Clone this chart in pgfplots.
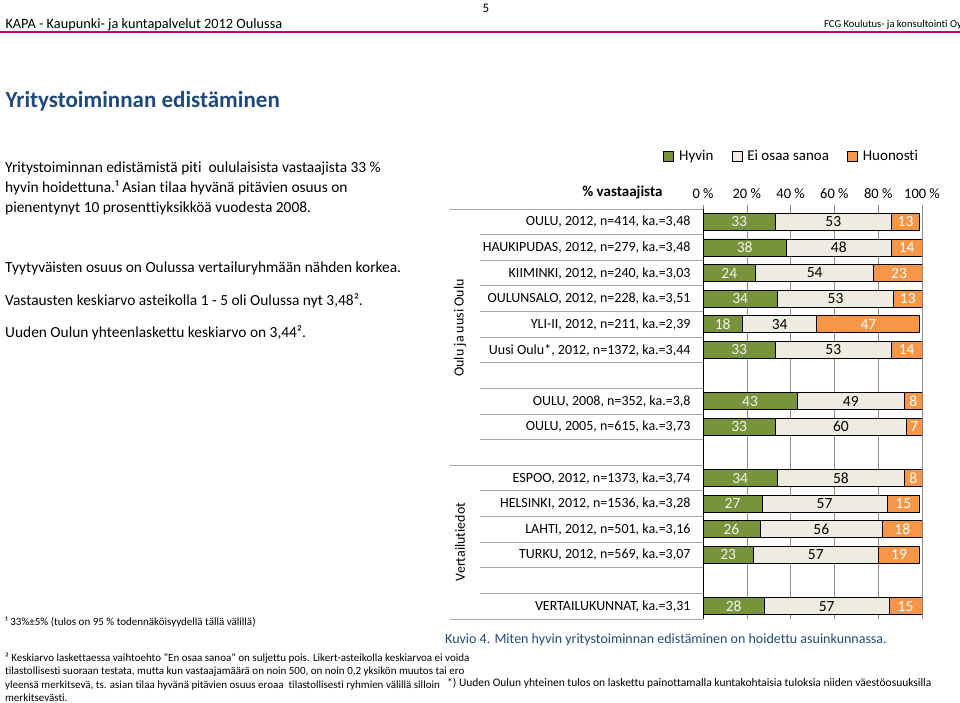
\documentclass[border=0pt]{standalone}
\usepackage{pgfplots}
\pgfplotsset{compat=1.18}
\usepackage{pgfplotstable}
\usepackage{fontspec}
\setmainfont{Carlito}[Ligatures=NoCommon]
\definecolor{cgreen}{HTML}{77933C}
\definecolor{cbeige}{HTML}{EEECE1}
\definecolor{corange}{HTML}{F79646}
\definecolor{cblue}{HTML}{1F497D}
\definecolor{cmag}{HTML}{C0006E}
\definecolor{cgrid}{HTML}{8C8C8C}
\definecolor{csep}{HTML}{A6A6A6}
\newcommand{\fs}[1]{\fontsize{#1}{#1}\selectfont}

\pgfplotstableread{
y a b c
0 33 53 13
1 38 48 14
2 24 54 23
3 34 53 13
4 18 34 47
5 33 53 14
7 43 49 8
8 33 60 7
10 34 58 8
11 27 57 15
12 26 56 18
13 23 57 19
15 28 57 15
}\data

\begin{document}
\begin{tikzpicture}[x=1pt,y=1pt]
\useasboundingbox (0,0) rectangle (960,703);
% header
\node[font=\fs{13}] at (486,695) {5};
\node[anchor=west,font=\fs{14.3}] at (2,678) {KAPA - Kaupunki- ja kuntapalvelut 2012 Oulussa};
\node[anchor=west,font=\fs{10.6},inner sep=0pt] at (824,678) {FCG Koulutus- ja konsultointi Oy};
\draw[cmag, line width=2pt] (0,670.5) -- (960,670.5);
% title
\node[anchor=west,font=\fs{23}\bfseries,text=cblue] at (2,602) {Yritystoiminnan edistäminen};
% left text
\begin{scope}[every node/.style={anchor=west,font=\fs{15.4},inner sep=0pt}]
\node at (5,535) {Yritystoiminnan edistämistä piti \ oululaisista vastaajista 33 \%};
\node at (5,515) {hyvin hoidettuna.¹ Asian tilaa hyvänä pitävien osuus on};
\node at (5,495) {pienentynyt 10 prosenttiyksikköä vuodesta 2008.};
\node at (5,435) {Tyytyväisten osuus on Oulussa vertailuryhmään nähden korkea.};
\node at (5,402) {Vastausten keskiarvo asteikolla 1 - 5 oli Oulussa nyt 3,48².};
\node at (5,370) {Uuden Oulun yhteenlaskettu keskiarvo on 3,44².};
\end{scope}
% footnotes
\begin{scope}[every node/.style={anchor=west,font=\fs{11},inner sep=0pt}]
\node at (5,81) {¹ 33\%±5\% (tulos on 95 \% todennäköisyydellä tällä välillä)};
\node at (5,45) {² Keskiarvo laskettaessa vaihtoehto "En osaa sanoa" on suljettu pois. Likert-asteikolla keskiarvoa ei voida};
\node at (5,31) {tilastollisesti suoraan testata, mutta kun vastaajamäärä on noin 500, on noin 0,2 yksikön muutos tai ero};
\node at (5,17) {yleensä merkitsevä, ts. asian tilaa hyvänä pitävien osuus eroaa \ tilastollisesti ryhmien välillä silloin};
\node at (5,5) {merkitsevästi.};
\node[font=\fs{11.5}] at (447,20) {*) Uuden Oulun yhteinen tulos on laskettu painottamalla kuntakohtaisia tuloksia niiden väestöosuuksilla};
\node[font=\fs{14},text=cblue] at (445,63) {Kuvio 4. Miten hyvin yritystoiminnan edistäminen on hoidettu asuinkunnassa.};
\end{scope}
% separator lines
\foreach \k in {1,...,9,11,12,13,14,15}{
  \draw[csep, line width=0.8pt] (480,494-25.625*\k) -- (703,494-25.625*\k);
}
\foreach \k in {0,10,16}{
  \draw[csep, line width=0.8pt] (450,494-25.625*\k) -- (703,494-25.625*\k);
}
\node[rotate=90,font=\fs{14}] at (460,375) {Oulu ja uusi Oulu};
\node[rotate=90,font=\fs{14}] at (460,161) {Vertailutiedot};
\node[anchor=east,font=\fs{15}\bfseries] at (666,510) {\% vastaajista};

\begin{axis}[
  at={(703pt,84pt)}, anchor=south west,
  width=219pt, height=410pt, scale only axis,
  xbar stacked, bar width=17pt,
  xmin=0, xmax=100, ymin=-0.5, ymax=15.5, y dir=reverse,
  axis line style={draw=none},
  xtick={0,20,...,100}, xticklabels={0 \%,20 \%,40 \%,60 \%,80 \%,100 \%},
  xticklabel pos=upper, xtick pos=upper, tick align=outside, major tick length=4pt,
  xtick style={cgrid, line width=0.6pt},
  xmajorgrids, grid style={cgrid, line width=0.6pt},
  ytick={0,1,2,3,4,5,7,8,10,11,12,13,15},
  yticklabels={{OULU, 2012, n=414, ka.=3,48},{HAUKIPUDAS, 2012, n=279, ka.=3,48},{KIIMINKI, 2012, n=240, ka.=3,03},{OULUNSALO, 2012, n=228, ka.=3,51},{YLI-II, 2012, n=211, ka.=2,39},{Uusi Oulu*, 2012, n=1372, ka.=3,44},{OULU, 2008, n=352, ka.=3,8},{OULU, 2005, n=615, ka.=3,73},{ESPOO, 2012, n=1373, ka.=3,74},{HELSINKI, 2012, n=1536, ka.=3,28},{LAHTI, 2012, n=501, ka.=3,16},{TURKU, 2012, n=569, ka.=3,07},{VERTAILUKUNNAT, ka.=3,31}},
  ytick style={draw=none},
  yticklabel style={font=\fs{14}, xshift=-5pt},
  xticklabel style={font=\fs{14.5}, yshift=3pt},
  legend columns=3,
  legend style={draw=none, at={(0.405,1.129)}, anchor=center, font=\fs{15},
    /tikz/every even column/.append style={column sep=16pt}},
  legend image code/.code={\draw[#1] (0pt,-5pt) rectangle (10pt,5pt); \path (13pt,0pt);},
]
\addplot[fill=cgreen, draw=black, line width=0.8pt] table[x=a, y=y]{\data};
\addplot[fill=cbeige, draw=black, line width=0.8pt] table[x=b, y=y]{\data};
\addplot[fill=corange, draw=black, line width=0.8pt] table[x=c, y=y]{\data};
\legend{Hyvin, Ei osaa sanoa, Huonosti}
\draw[black, line width=1pt] (axis cs:0,-0.5) -- (axis cs:0,15.5);
\end{axis}

\begin{axis}[
  at={(703pt,84pt)}, anchor=south west,
  width=219pt, height=410pt, scale only axis,
  xmin=0, xmax=100, ymin=-0.5, ymax=15.5, y dir=reverse,
  hide axis, clip=false,
  nodes near coords, point meta=explicit symbolic,
  every node near coord/.append style={anchor=center, font=\fs{15.5}, inner sep=0pt},
]
\addplot[draw=none, mark=none, every node near coord/.append style={text=cbeige!60!white}] table[x expr=\thisrow{a}/2, y=y, meta=a]{\data};
\addplot[draw=none, mark=none, every node near coord/.append style={text=black}] table[x expr=\thisrow{a}+\thisrow{b}/2, y=y, meta=b]{\data};
\addplot[draw=none, mark=none, every node near coord/.append style={text=white}] table[x expr=\thisrow{a}+\thisrow{b}+\thisrow{c}/2, y=y, meta=c]{\data};
\end{axis}
\end{tikzpicture}
\end{document}
